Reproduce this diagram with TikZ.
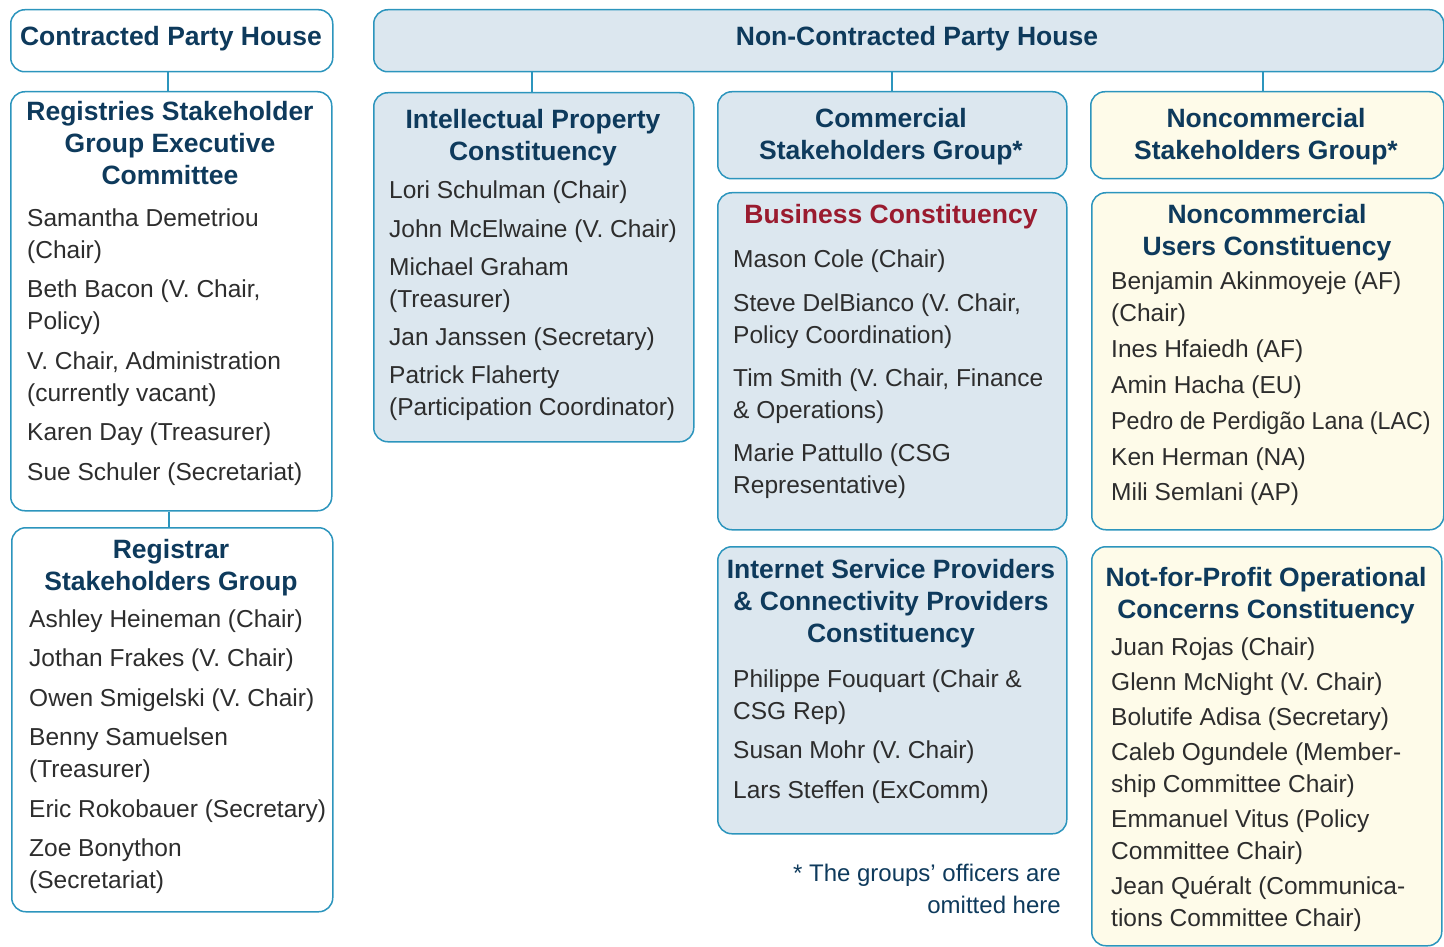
\documentclass[tikz,border=0pt]{standalone}
\usepackage{fontspec}
\setmainfont{Liberation Sans}
\definecolor{navy}{HTML}{0E3A5C}
\definecolor{bordc}{HTML}{2C95BD}
\definecolor{lblue}{HTML}{DCE7EF}
\definecolor{cream}{HTML}{FEFBE9}
\definecolor{bodyc}{HTML}{2D2D2D}
\definecolor{bcred}{HTML}{9A1B2F}
\tikzset{
  box/.style={draw=bordc, line width=1.5pt, rounded corners=14pt, anchor=north west, inner sep=0pt},
  wbox/.style={box, fill=white},
  bbox/.style={box, fill=lblue},
  cbox/.style={box, fill=cream},
  conn/.style={draw=bordc, line width=2.4pt},
  ttl/.style={font=\bfseries\fontsize{26.5}{32}\selectfont, text=navy, inner sep=0pt, anchor=base},
  bd/.style={font=\fontsize{24.5}{32}\selectfont, text=bodyc, inner sep=0pt, anchor=base west},
  fn/.style={font=\fontsize{24}{32}\selectfont, text=navy, inner sep=0pt, anchor=base east},
}
\begin{document}
\begin{tikzpicture}[x=1pt, y=-1pt]
\useasboundingbox (0,0) rectangle (1444,947);
% boxes
\node[wbox, minimum width=322pt, minimum height=62pt] (cph) at (10,9) {};
\node[bbox, minimum width=1070pt, minimum height=62pt] (ncph) at (373,9) {};
\node[wbox, minimum width=321pt, minimum height=419pt] (rysg) at (10,91) {};
\node[wbox, minimum width=321pt, minimum height=384pt] (rrsg) at (11,527) {};
\node[bbox, minimum width=320pt, minimum height=349pt] (ipc) at (373,92) {};
\node[bbox, minimum width=349pt, minimum height=87pt] (csg) at (717,91) {};
\node[bbox, minimum width=349pt, minimum height=337pt] (bc) at (717,192) {};
\node[bbox, minimum width=349pt, minimum height=287pt] (ispcp) at (717,546) {};
\node[cbox, minimum width=353pt, minimum height=87pt] (ncsg) at (1090,91) {};
\node[cbox, minimum width=352pt, minimum height=337pt] (ncuc) at (1091,192) {};
\node[cbox, minimum width=350pt, minimum height=399pt] (npoc) at (1091,546) {};
% connectors
\draw[conn] ([xshift=-4pt]cph.south) -- ([xshift=-4pt]cph.south |- rysg.north);
\draw[conn] ([xshift=-2pt]rysg.south) -- ([xshift=-2pt]rysg.south |- rrsg.north);
\draw[conn] ([xshift=-2pt]ipc.north |- ncph.south) -- ([xshift=-2pt]ipc.north);
\draw[conn] (csg.north |- ncph.south) -- (csg.north);
\draw[conn] ([xshift=-4pt]ncsg.north |- ncph.south) -- ([xshift=-4pt]ncsg.north);
% house titles
\node[ttl] (cpht) at (171,46) {Contracted Party House};
\node[ttl] (ncpht) at (917,46) {Non-Contracted Party House};
% RySG
\node[ttl] (rysgt1) at (170,121) {Registries Stakeholder};
\node[ttl] (rysgt2) at (170,153) {Group Executive};
\node[ttl] (rysgt3) at (170,185) {Committee};
\node[bd] (rysg1) at (27,226) {Samantha Demetriou};
\node[bd] (rysg2) at (27,258) {(Chair)};
\node[bd] (rysg3) at (27,297) {Beth Bacon (V. Chair,};
\node[bd] (rysg4) at (27,329) {Policy)};
\node[bd] (rysg5) at (27,369) {V. Chair, Administration};
\node[bd] (rysg6) at (27,401) {(currently vacant)};
\node[bd] (rysg7) at (27,440) {Karen Day (Treasurer)};
\node[bd] (rysg8) at (27,480) {Sue Schuler (Secretariat)};
% RrSG
\node[ttl] (rrsgt1) at (171,558) {Registrar};
\node[ttl] (rrsgt2) at (171,590) {Stakeholders Group};
\node[bd] (rrsg1) at (29,627) {Ashley Heineman (Chair)};
\node[bd] (rrsg2) at (29,666) {Jothan Frakes (V. Chair)};
\node[bd] (rrsg3) at (29,706) {Owen Smigelski (V. Chair)};
\node[bd] (rrsg4) at (29,745) {Benny Samuelsen};
\node[bd] (rrsg5) at (29,777) {(Treasurer)};
\node[bd] (rrsg6) at (29,817) {Eric Rokobauer (Secretary)};
\node[bd] (rrsg7) at (29,856) {Zoe Bonython};
\node[bd] (rrsg8) at (29,888) {(Secretariat)};
% IPC
\node[ttl] (ipct1) at (533,129) {Intellectual Property};
\node[ttl] (ipct2) at (533,161) {Constituency};
\node[bd] (ipc1) at (389,199) {Lori Schulman (Chair)};
\node[bd] (ipc2) at (389,237) {John McElwaine (V. Chair)};
\node[bd] (ipc3) at (389,275) {Michael Graham};
\node[bd] (ipc4) at (389,307) {(Treasurer)};
\node[bd] (ipc5) at (389,345) {Jan Janssen (Secretary)};
\node[bd] (ipc6) at (389,383) {Patrick Flaherty};
\node[bd] (ipc7) at (389,415) {(Participation Coordinator)};
% CSG
\node[ttl] (csgt1) at (891,128) {Commercial};
\node[ttl] (csgt2) at (891,160) {Stakeholders Group*};
% BC
\node[ttl, text=bcred] (bct) at (891,223) {Business Constituency};
\node[bd] (bc1) at (733,267) {Mason Cole (Chair)};
\node[bd] (bc2) at (733,311) {Steve DelBianco (V. Chair,};
\node[bd] (bc3) at (733,343) {Policy Coordination)};
\node[bd] (bc4) at (733,386) {Tim Smith (V. Chair, Finance};
\node[bd] (bc5) at (733,418) {\& Operations)};
\node[bd] (bc6) at (733,461) {Marie Pattullo (CSG};
\node[bd] (bc7) at (733,493) {Representative)};
% ISPCP
\node[ttl] (ispt1) at (891,578) {Internet Service Providers};
\node[ttl] (ispt2) at (891,610) {\& Connectivity Providers};
\node[ttl] (ispt3) at (891,642) {Constituency};
\node[bd] (isp1) at (733,687) {Philippe Fouquart (Chair \&};
\node[bd] (isp2) at (733,719) {CSG Rep)};
\node[bd] (isp3) at (733,758) {Susan Mohr (V. Chair)};
\node[bd] (isp4) at (733,798) {Lars Steffen (ExComm)};
% footnote
\node[fn] (fn1) at (1061,881) {* The groups’ officers are};
\node[fn] (fn2) at (1061,913) {omitted here};
% NCSG
\node[ttl] (ncsgt1) at (1266,128) {Noncommercial};
\node[ttl] (ncsgt2) at (1266,160) {Stakeholders Group*};
% NCUC
\node[ttl] (ncuct1) at (1267,223) {Noncommercial};
\node[ttl] (ncuct2) at (1267,255) {Users Constituency};
\node[bd] (ncuc1) at (1111,289) {Benjamin Akinmoyeje (AF)};
\node[bd] (ncuc2) at (1111,321) {(Chair)};
\node[bd] (ncuc3) at (1111,357) {Ines Hfaiedh (AF)};
\node[bd] (ncuc4) at (1111,393) {Amin Hacha (EU)};
\node[bd] (ncuc5) at (1111,429) {\scalebox{0.95}[1]{Pedro de Perdigão Lana (LAC)}};
\node[bd] (ncuc6) at (1111,465) {Ken Herman (NA)};
\node[bd] (ncuc7) at (1111,500) {Mili Semlani (AP)};
% NPOC
\node[ttl] (npoct1) at (1266,586) {Not-for-Profit Operational};
\node[ttl] (npoct2) at (1266,618) {Concerns Constituency};
\node[bd] (npoc1) at (1111,655) {Juan Rojas (Chair)};
\node[bd] (npoc2) at (1111,690) {Glenn McNight (V. Chair)};
\node[bd] (npoc3) at (1111,725) {Bolutife Adisa (Secretary)};
\node[bd] (npoc4) at (1111,760) {Caleb Ogundele (Member-};
\node[bd] (npoc5) at (1111,792) {ship Committee Chair)};
\node[bd] (npoc6) at (1111,827) {Emmanuel Vitus (Policy};
\node[bd] (npoc7) at (1111,859) {Committee Chair)};
\node[bd] (npoc8) at (1111,894) {Jean Quéralt (Communica-};
\node[bd] (npoc9) at (1111,926) {tions Committee Chair)};
\end{tikzpicture}
\end{document}
